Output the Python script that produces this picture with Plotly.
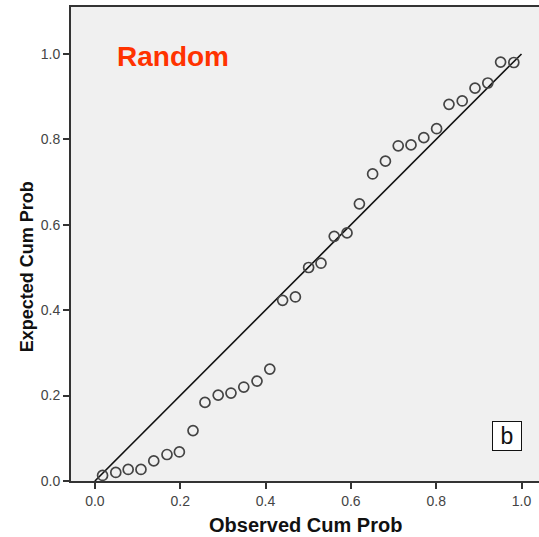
import plotly.graph_objects as go

observed = [0.018, 0.049, 0.078, 0.108, 0.138, 0.169, 0.198, 0.230, 0.258, 0.289,
            0.319, 0.349, 0.380, 0.410, 0.440, 0.470, 0.501, 0.530, 0.561, 0.591,
            0.620, 0.651, 0.681, 0.711, 0.741, 0.771, 0.801, 0.830, 0.861, 0.891,
            0.921, 0.951, 0.982]
expected = [0.013, 0.020, 0.027, 0.027, 0.047, 0.062, 0.068, 0.118, 0.184, 0.201,
            0.206, 0.220, 0.234, 0.262, 0.423, 0.431, 0.500, 0.510, 0.573, 0.581,
            0.649, 0.719, 0.749, 0.785, 0.787, 0.804, 0.825, 0.882, 0.890, 0.920,
            0.932, 0.981, 0.980]
ref_line = [0.0, 1.0]
tick_vals = [0.0, 0.2, 0.4, 0.6, 0.8, 1.0]
tick_text = ["0.0", "0.2", "0.4", "0.6", "0.8", "1.0"]

axis_col = "#333333"
font = "Liberation Sans, Arial, sans-serif"

fig = go.Figure()
fig.add_trace(go.Scatter(x=ref_line, y=ref_line, mode="lines",
                         line=dict(color="#111111", width=1.6),
                         hoverinfo="skip", showlegend=False))
fig.add_trace(go.Scatter(x=observed, y=expected, mode="markers",
                         marker=dict(symbol="circle-open", size=10,
                                     line=dict(color="#444444", width=1.7),
                                     color="#444444"),
                         cliponaxis=False, showlegend=False))

fig.add_annotation(x=0.046, y=0.993, xref="x", yref="y", text="<b>Random</b>",
                   showarrow=False, xanchor="left", yanchor="middle",
                   font=dict(family=font, size=28, color="#FF3300"))
fig.add_annotation(x=0.965, y=0.106, xref="x", yref="y", text="b",
                   showarrow=False, xanchor="center", yanchor="middle",
                   bgcolor="white", bordercolor="#111111", borderwidth=1,
                   borderpad=1, width=26,
                   font=dict(family=font, size=23, color="#111111"))
fig.add_annotation(x=0.5, y=-0.093, xref="paper", yref="paper",
                   text="<b>Observed Cum Prob</b>", showarrow=False,
                   xanchor="center", yanchor="middle",
                   font=dict(family=font, size=20, color="#111111"))
fig.add_annotation(x=-0.094, y=0.451, xref="paper", yref="paper",
                   text="<b>Expected Cum Prob</b>", showarrow=False, textangle=-90,
                   xanchor="center", yanchor="middle",
                   font=dict(family=font, size=18, color="#111111"))

fig.update_xaxes(range=[-0.056, 1.041], tickvals=tick_vals, ticktext=tick_text,
                 ticks="outside", ticklen=6, tickwidth=2, tickcolor=axis_col,
                 showline=True, linewidth=2, linecolor=axis_col, mirror=True,
                 showgrid=False, zeroline=False, automargin=False,
                 tickfont=dict(family=font, size=14, color="#444444"))
fig.update_yaxes(range=[0.0, 1.11], tickvals=tick_vals, ticktext=tick_text,
                 ticks="outside", ticklen=6, tickwidth=2, tickcolor=axis_col,
                 showline=True, linewidth=2, linecolor=axis_col,
                 showgrid=False, zeroline=False, automargin=False,
                 tickfont=dict(family=font, size=14, color="#444444"))

fig.update_layout(width=539, height=537,
                  margin=dict(l=71, r=0, t=7, b=56),
                  plot_bgcolor="#F0F0F0", paper_bgcolor="white",
                  showlegend=False)

fig.write_html("out.html", config={"displayModeBar": False},
               post_script="document.body.style.margin='0';document.body.style.overflow='hidden';")
